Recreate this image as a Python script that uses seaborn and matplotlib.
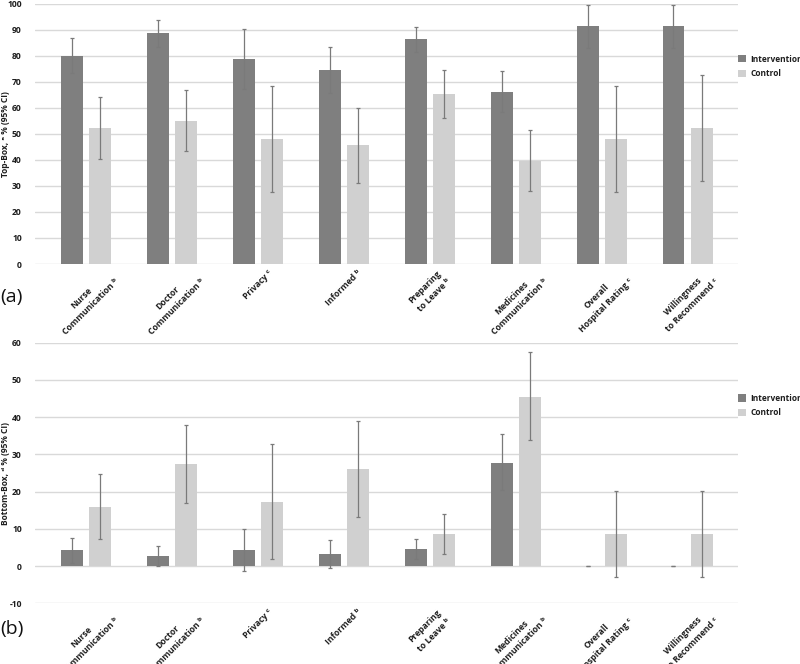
import matplotlib
matplotlib.use("Agg")
import matplotlib.pyplot as plt
import seaborn as sns
import pandas as pd

# ---------------- data ----------------
categories = [
    "Nurse\nCommunication ᵇ",
    "Doctor\nCommunication ᵇ",
    "Privacy ᶜ",
    "Informed ᵇ",
    "Preparing\nto Leave ᵇ",
    "Medicines\nCommunication ᵇ",
    "Overall\nHospital Rating ᶜ",
    "Willingness\nto Recommend ᶜ",
]
groups = ["Intervention", "Control"]

# (a) Top-box
top_int = [80.0, 88.6, 78.6, 74.5, 86.2, 66.1, 91.3, 91.3]
top_int_lo = [73.5, 83.3, 67.0, 65.5, 81.5, 58.2, 83.0, 83.0]
top_int_hi = [86.7, 93.8, 90.4, 83.4, 90.8, 74.2, 99.4, 99.4]
top_ctl = [52.1, 55.0, 47.8, 45.5, 65.2, 39.5, 48.0, 52.2]
top_ctl_lo = [40.3, 43.2, 27.5, 31.2, 56.1, 28.1, 27.5, 31.7]
top_ctl_hi = [64.0, 66.8, 68.2, 60.0, 74.3, 51.3, 68.2, 72.5]

# (b) Bottom-box
bot_int = [4.2, 2.8, 4.2, 3.2, 4.5, 27.8, 0.0, 0.0]
bot_int_lo = [0.9, 0.0, -1.4, -0.4, 1.8, 20.3, 0.0, 0.0]
bot_int_hi = [7.6, 5.5, 10.0, 7.1, 7.3, 35.4, 0.0, 0.0]
bot_ctl = [15.8, 27.5, 17.3, 26.0, 8.6, 45.5, 8.7, 8.7]
bot_ctl_lo = [7.2, 17.0, 2.0, 13.3, 3.2, 33.8, -2.9, -2.9]
bot_ctl_hi = [24.6, 38.0, 32.9, 38.9, 14.1, 57.4, 20.1, 20.1]

top_ticks = list(range(0, 101, 10))
bot_ticks = list(range(-10, 61, 10))

# ---------------- style ----------------
sns.set_theme(style="white")
plt.rcParams["font.family"] = ["Open Sans", "DejaVu Sans"]

colors = {"Intervention": "#7f7f7f", "Control": "#d0d0d0"}
txt_color = "#1e1e1e"
err_color = "#7a7a7a"

fig = plt.figure(figsize=(8.0, 6.64), dpi=100)
ax_top = fig.add_axes([0.04375, 0.6024, 0.879, 0.3923])
ax_bot = fig.add_axes([0.04375, 0.0914, 0.879, 0.3925])


def panel(ax, vi, vi_lo, vi_hi, vc, vc_lo, vc_hi, ylim, yticks, ylabel, tag, tag_y):
    df = pd.DataFrame({
        "Category": categories * 2,
        "Group": ["Intervention"] * len(categories) + ["Control"] * len(categories),
        "Value": list(vi) + list(vc),
    })
    sns.barplot(data=df, x="Category", y="Value", hue="Group",
                hue_order=groups, order=categories, palette=colors,
                errorbar=None, width=0.652, gap=0.215, linewidth=0,
                saturation=1, ax=ax, zorder=2)
    lows = [vi_lo, vc_lo]
    highs = [vi_hi, vc_hi]
    vals = [vi, vc]
    bar_conts = list(ax.containers)[:2]
    for k, cont in enumerate(bar_conts):
        xs = [b.get_x() + b.get_width() / 2 for b in cont]
        v = vals[k]
        yerr = [[v[i] - lows[k][i] for i in range(len(v))],
                [highs[k][i] - v[i] for i in range(len(v))]]
        ax.errorbar(xs, v, yerr=yerr, fmt="none", ecolor=err_color,
                    elinewidth=0.9, capsize=1.6, capthick=0.9, zorder=3)

    ax.set_xlim(-0.594, 7.59)
    ax.set_ylim(*ylim)
    ax.set_yticks(yticks)
    ax.set_yticklabels([str(t) for t in yticks])
    ax.grid(axis="y", color="#d9d9d9", linewidth=1.0, zorder=0)
    ax.grid(axis="x", visible=False)
    ax.set_axisbelow(True)
    for s in ax.spines.values():
        s.set_visible(False)
    ax.tick_params(axis="both", length=0, colors=txt_color)
    ax.tick_params(axis="y", pad=9.5)
    ax.tick_params(axis="x", pad=3)
    for lab in ax.get_yticklabels():
        lab.set_fontsize(6.2)
        lab.set_fontweight("bold")
    ax.set_xticks(range(len(categories)))
    ax.set_xticklabels(categories, rotation=45, ha="center", va="top",
                       rotation_mode="default", multialignment="center",
                       fontsize=6.2, fontweight="bold", color=txt_color,
                       linespacing=1.5)
    ax.set_xlabel("")
    ax.set_ylabel(ylabel, fontsize=6, fontweight="bold", color=txt_color)
    ax.yaxis.set_label_coords(-0.036, 0.5)

    handles, labels = ax.get_legend_handles_labels()
    if ax.get_legend() is not None:
        ax.get_legend().remove()
    leg = ax.legend(handles, labels, loc="center left", bbox_to_anchor=(1.0, 0.759),
                    frameon=False, handlelength=0.95, handleheight=0.95,
                    handletextpad=0.55, borderaxespad=0, borderpad=0,
                    labelspacing=0.65, prop={"size": 6, "weight": "bold"})
    for t in leg.get_texts():
        t.set_color(txt_color)

    fig.text(0.0, tag_y, tag, fontsize=14, va="center", ha="left", color="#111111")


panel(ax_top, top_int, top_int_lo, top_int_hi, top_ctl, top_ctl_lo, top_ctl_hi,
      (0, 100), top_ticks, "Top-Box, ᵃ % (95% CI)", "(a)", 0.5527)
panel(ax_bot, bot_int, bot_int_lo, bot_int_hi, bot_ctl, bot_ctl_lo, bot_ctl_hi,
      (-10, 60), bot_ticks, "Bottom-Box, ᵈ % (95% CI)", "(b)", 0.0527)

fig.savefig("out.png", dpi=100)
